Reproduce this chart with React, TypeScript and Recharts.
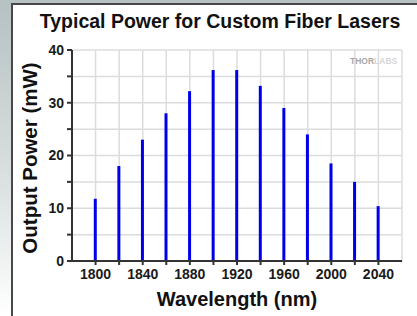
import React from "react"
import { BarChart, Bar, XAxis, YAxis, CartesianGrid } from "recharts"

const wavelengths = [1800, 1820, 1840, 1860, 1880, 1900, 1920, 1940, 1960, 1980, 2000, 2020, 2040]
const powers = [11.8, 18, 23, 28, 32.2, 36.2, 36.2, 33.2, 29, 24, 18.5, 15, 10.4]
const xTicks = [1800, 1840, 1880, 1920, 1960, 2000, 2040]
const xGridTicks = [1800, 1820, 1840, 1860, 1880, 1900, 1920, 1940, 1960, 1980, 2000, 2020, 2040]
const yTicks = [0, 5, 10, 15, 20, 25, 30, 35, 40]

const FONT = "'Liberation Sans', Arial, sans-serif"

export default function App() {
  const data = wavelengths.map((wl, i) => ({ wl, power: powers[i] }))

  return (
    <div
      style={{
        position: "fixed",
        left: 0,
        top: 0,
        width: 417,
        height: 316,
        background: "linear-gradient(to bottom, #b6c1c1 0%, #dde2e2 60%, #ffffff 100%)",
        fontFamily: FONT,
        overflow: "hidden",
      }}
    >
      <div
        style={{
          position: "absolute",
          left: 11,
          top: 3,
          right: 0,
          bottom: 0,
          background: "#fff",
          borderLeft: "2px solid #484848",
          borderTop: "2px solid #484848",
        }}
      />
      <div
        style={{
          position: "absolute",
          left: 0,
          top: 0,
          width: 417,
          height: 316,
        }}
      >
        <BarChart
          width={417}
          height={316}
          data={data}
          margin={{ top: 50, right: 15, bottom: 26, left: 32 }}
        >
          <CartesianGrid stroke="#dcdcdc" strokeWidth={1.5} />
          <XAxis
            dataKey="wl"
            type="number"
            domain={[1780, 2060]}
            ticks={xGridTicks}
            interval={0}
            height={29}
            tickSize={4}
            tickMargin={4}
            stroke="#333"
            strokeWidth={2}
            tick={{ fill: "#1a1a1a", fontSize: 14, fontWeight: 700, fontFamily: FONT }}
            tickFormatter={(v: number) => (xTicks.includes(v) ? String(v) : "")}
          />
          <XAxis xAxisId="top" orientation="top" type="number" domain={[1780, 2060]} height={0} tick={false} tickLine={false} stroke="#333" strokeWidth={2} />
          <YAxis
            type="number"
            domain={[0, 40]}
            ticks={yTicks}
            interval={0}
            width={40}
            tickSize={5}
            tickMargin={3}
            stroke="#333"
            strokeWidth={2}
            tick={{ fill: "#1a1a1a", fontSize: 14, fontWeight: 700, fontFamily: FONT }}
            tickFormatter={(v: number) => (v % 10 === 0 ? String(v) : "")}
          />
          <YAxis yAxisId="right" orientation="right" domain={[0, 40]} width={0} tick={false} tickLine={false} stroke="#333" strokeWidth={2} />
          <Bar dataKey="power" fill="#0000e8" barSize={3} isAnimationActive={false} />
        </BarChart>
      </div>
      <div
        style={{
          position: "absolute",
          left: 20,
          width: 400,
          top: 9,
          textAlign: "center",
          fontSize: 19.5,
          fontWeight: 700,
          color: "#111",
          lineHeight: "24px",
          whiteSpace: "nowrap",
        }}
      >
        Typical Power for Custom Fiber Lasers
      </div>
      <div
        style={{
          position: "absolute",
          left: 137,
          width: 200,
          top: 287,
          textAlign: "center",
          fontSize: 20,
          fontWeight: 700,
          color: "#111",
          lineHeight: "24px",
          whiteSpace: "nowrap",
        }}
      >
        Wavelength (nm)
      </div>
      <div
        style={{
          position: "absolute",
          left: 30 - 120,
          width: 240,
          top: 158 - 12,
          textAlign: "center",
          fontSize: 20.5,
          fontWeight: 700,
          color: "#111",
          lineHeight: "24px",
          whiteSpace: "nowrap",
          transform: "rotate(-90deg)",
        }}
      >
        Output Power (mW)
      </div>
      <div
        style={{
          position: "absolute",
          left: 350,
          top: 56,
          fontSize: 8.5,
          fontWeight: 700,
          lineHeight: "10px",
          whiteSpace: "nowrap",
        }}
      >
        <span style={{ color: "#a8a8a8" }}>THOR</span>
        <span style={{ color: "#d6d6d6" }}>LABS</span>
      </div>
    </div>
  )
}
